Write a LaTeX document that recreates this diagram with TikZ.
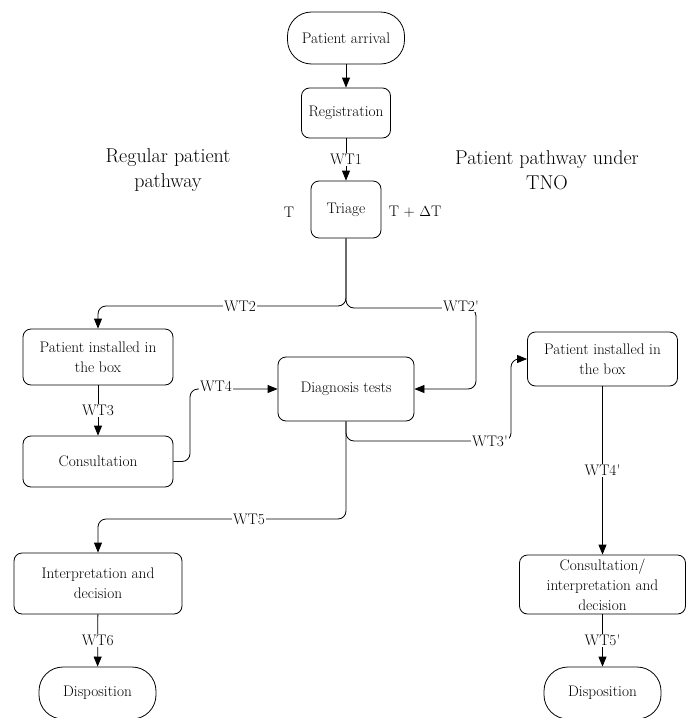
\documentclass[tikz,border=0pt]{standalone}
\usepackage{fontspec}
\usetikzlibrary{arrows.meta}
\newcommand{\qs}{\textquotesingle}
\begin{document}
\begin{tikzpicture}[x=1pt,y=-1pt,
  box/.style={draw, line width=0.8pt, rounded corners=8pt, align=center, inner sep=0pt,
              font=\fontsize{15.3}{20}\selectfont},
  term/.style={box, rounded corners=24pt, minimum width=117pt, minimum height=52pt},
  lbl/.style={fill=white, inner sep=1pt, font=\fontsize{15.3}{20}\selectfont},
  plain/.style={inner sep=0pt, font=\fontsize{15.3}{20}\selectfont},
  title/.style={align=center, inner sep=0pt, font=\fontsize{20}{25}\selectfont},
  conn/.style={line width=0.8pt, rounded corners=8pt},
  arr/.style={conn, -{Triangle[length=10pt,width=8pt]}}]
\useasboundingbox (0,0) rectangle (686,718);

% nodes
\node[term] (arrival) at (346,38) {Patient arrival};
\node[box, minimum width=89pt, minimum height=50pt] (reg) at (346,113) {Registration};
\node[box, minimum width=70pt, minimum height=57pt] (tri) at (346,209.5) {Triage};
\node[box, minimum width=150pt, minimum height=56pt] (pib1) at (98,357) {Patient installed in\\the box};
\node[box, minimum width=136pt, minimum height=64pt] (diag) at (346,389) {Diagnosis tests};
\node[box, minimum width=150pt, minimum height=51pt] (cons) at (98,461.5) {Consultation};
\node[box, minimum width=150pt, minimum height=54pt] (pib2) at (602.5,359) {Patient installed in\\the box};
\node[box, minimum width=168pt, minimum height=61pt] (interp) at (98,583.5) {Interpretation and\\decision};
\node[box, minimum width=166pt, minimum height=59pt] (cr) at (602.5,584.5) {Consultation/\\interpretation and\\decision};
\node[term] (d1) at (97.5,693) {Disposition};
\node[term] (d2) at (602.5,693) {Disposition};

% titles and side labels
\node[title] (t1) at (168,170) {Regular patient\\pathway};
\node[title] (t2) at (547,170) {Patient pathway under\\TNO};
\node[plain] (tl) at (289,212) {T};
\node[plain] (tr) at (415,212) {T + $\Delta$T};

% connectors
\draw[arr] (arrival) -- (reg);
\draw[arr] (reg) -- node[lbl] (w1) {WT1} (tri);
\coordinate (jl) at (346,306);
\coordinate (jr) at (346,308);
\draw[arr] (tri.south) -- (jl) -| (pib1.north);
\coordinate (c2) at (476,308);
\draw[arr] (tri.south) -- (jr) -- (c2) |- (diag.east);
\draw[arr] (pib1) -- node[lbl] (w3) {WT3} (cons);
\coordinate (c4) at (190,461.5);
\draw[arr] (cons.east) -- (c4) |- (diag.west);
\coordinate (c3a) at (346,441);
\coordinate (c3b) at (511,441);
\draw[arr] (diag.south) -- (c3a) -- (c3b) |- (pib2.west);
\coordinate (c5) at (346,519);
\draw[arr] (diag.south) -- (c5) -| (interp.north);
\draw[arr] (pib2) -- node[lbl] (w4p) {WT4\qs} (cr);
\draw[arr] (interp) -- node[lbl] (w6) {WT6} (d1);
\draw[arr] (cr) -- node[lbl] (w5p) {WT5\qs} (d2);

% labels on bent connectors
\node[lbl] (w2) at (240,306) {WT2};
\node[lbl] (w2p) at (461,306) {WT2\qs};
\node[lbl] (w4) at (216,386) {WT4};
\node[lbl] (w3p) at (490,441) {WT3\qs};
\node[lbl] (w5) at (249,519) {WT5};
\end{tikzpicture}
\end{document}
